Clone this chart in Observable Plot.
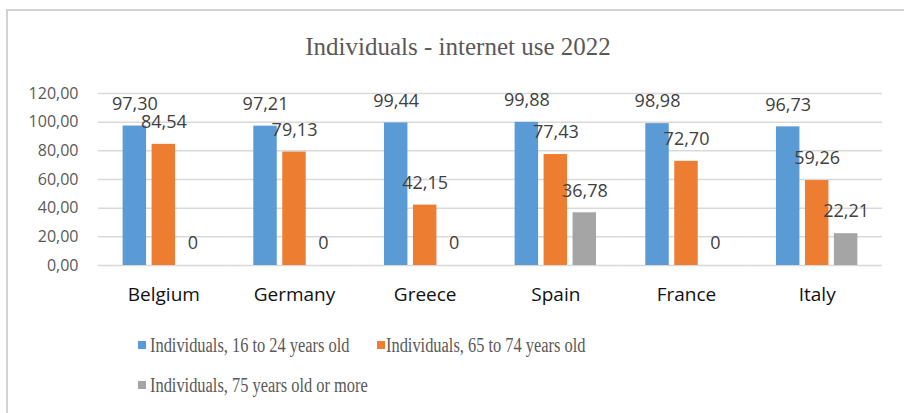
<!DOCTYPE html>
<html><head><meta charset="utf-8">
<script src="https://cdn.jsdelivr.net/npm/d3@7"></script>
<script src="https://cdn.jsdelivr.net/npm/@observablehq/plot@0.6"></script>
<style>
html,body{margin:0;padding:0;background:#fff;}
#wrap{position:relative;width:904px;height:413px;overflow:hidden;background:#fff;}
#frame{position:absolute;left:6px;top:9px;width:910px;height:420px;border-left:2px solid #d2d2d2;border-top:2px solid #d2d2d2;}
#title{position:absolute;left:0;width:916px;top:34px;text-align:center;font-family:"Liberation Serif",serif;font-size:25px;line-height:25px;color:#595959;white-space:nowrap;}
#chart{position:absolute;left:0;top:60px;}
.sw{position:absolute;width:8px;height:8px;}
.lt{position:absolute;font-family:"Liberation Serif",serif;font-size:20px;line-height:20px;color:#595959;white-space:nowrap;transform:scaleX(0.82);transform-origin:0 0;}
</style>
</head><body>
<div id="wrap">
  <div id="frame"></div>
  <div id="title">Individuals - internet use 2022</div>
  <div id="chart"></div>
</div>
<script>
const countries = ["Belgium", "Germany", "Greece", "Spain", "France", "Italy"];
const seriesNames = ["Individuals, 16 to 24 years old", "Individuals, 65 to 74 years old", "Individuals, 75 years old or more"];
const age16to24 = [97.30, 97.21, 99.44, 99.88, 98.98, 96.73];
const age65to74 = [84.54, 79.13, 42.15, 77.43, 72.70, 59.26];
const age75plus = [0, 0, 0, 36.78, 0, 22.21];
const colors = ["#5B9BD5", "#ED7D31", "#A5A5A5"];
const yTicks = [0, 20, 40, 60, 80, 100, 120];

const seriesValues = [age16to24, age65to74, age75plus];
const data = countries.flatMap((c, i) => seriesValues.map((arr, j) => ({country: c, series: seriesNames[j], value: arr[i]})));

const fmt2 = d => d.toFixed(2).replace(".", ",");
const fmtLabel = v => v === 0 ? "0" : fmt2(v);

const chart = Plot.plot({
  width: 904, height: 250,
  marginTop: 33, marginBottom: 45, marginLeft: 98, marginRight: 22,
  style: {fontFamily: "'Open Sans', sans-serif", background: "transparent", overflow: "visible"},
  fx: {domain: countries, padding: 0, round: false},
  x: {domain: seriesNames, paddingInner: 0.19, paddingOuter: 0.85, round: false, axis: null},
  y: {domain: [0, 120]},
  color: {domain: seriesNames, range: colors},
  marks: [
    Plot.gridY(yTicks, {stroke: "#d9d9d9", strokeOpacity: 1, strokeWidth: 1.5}),
    Plot.axisY(yTicks, {tickSize: 0, tickPadding: 20, fontSize: 16, fill: "#595959", tickFormat: fmt2, label: null}),
    Plot.axisFx({anchor: "bottom", tickSize: 0, tickPadding: 22, fontSize: 19, fill: "#111", label: null}),
    Plot.barY(data, {fx: "country", x: "series", y: "value", fill: "series"}),
    Plot.text(data, {fx: "country", x: "series", y: "value", text: d => fmtLabel(d.value), dy: -22, fontSize: 18, fill: "#404040"})
  ]
});
document.getElementById("chart").appendChild(chart);

const legendPos = [{sx: 138, sy: 341, tx: 150, ty: 335}, {sx: 377, sy: 341, tx: 386, ty: 335}, {sx: 138, sy: 381, tx: 150, ty: 375}];
const wrap = document.getElementById("wrap");
seriesNames.forEach((name, i) => {
  const p = legendPos[i];
  const sw = document.createElement("div");
  sw.className = "sw";
  sw.style.left = p.sx + "px"; sw.style.top = p.sy + "px"; sw.style.background = colors[i];
  const t = document.createElement("div");
  t.className = "lt";
  t.style.left = p.tx + "px"; t.style.top = p.ty + "px";
  t.textContent = name;
  wrap.appendChild(sw);
  wrap.appendChild(t);
});
</script>
</body></html>
